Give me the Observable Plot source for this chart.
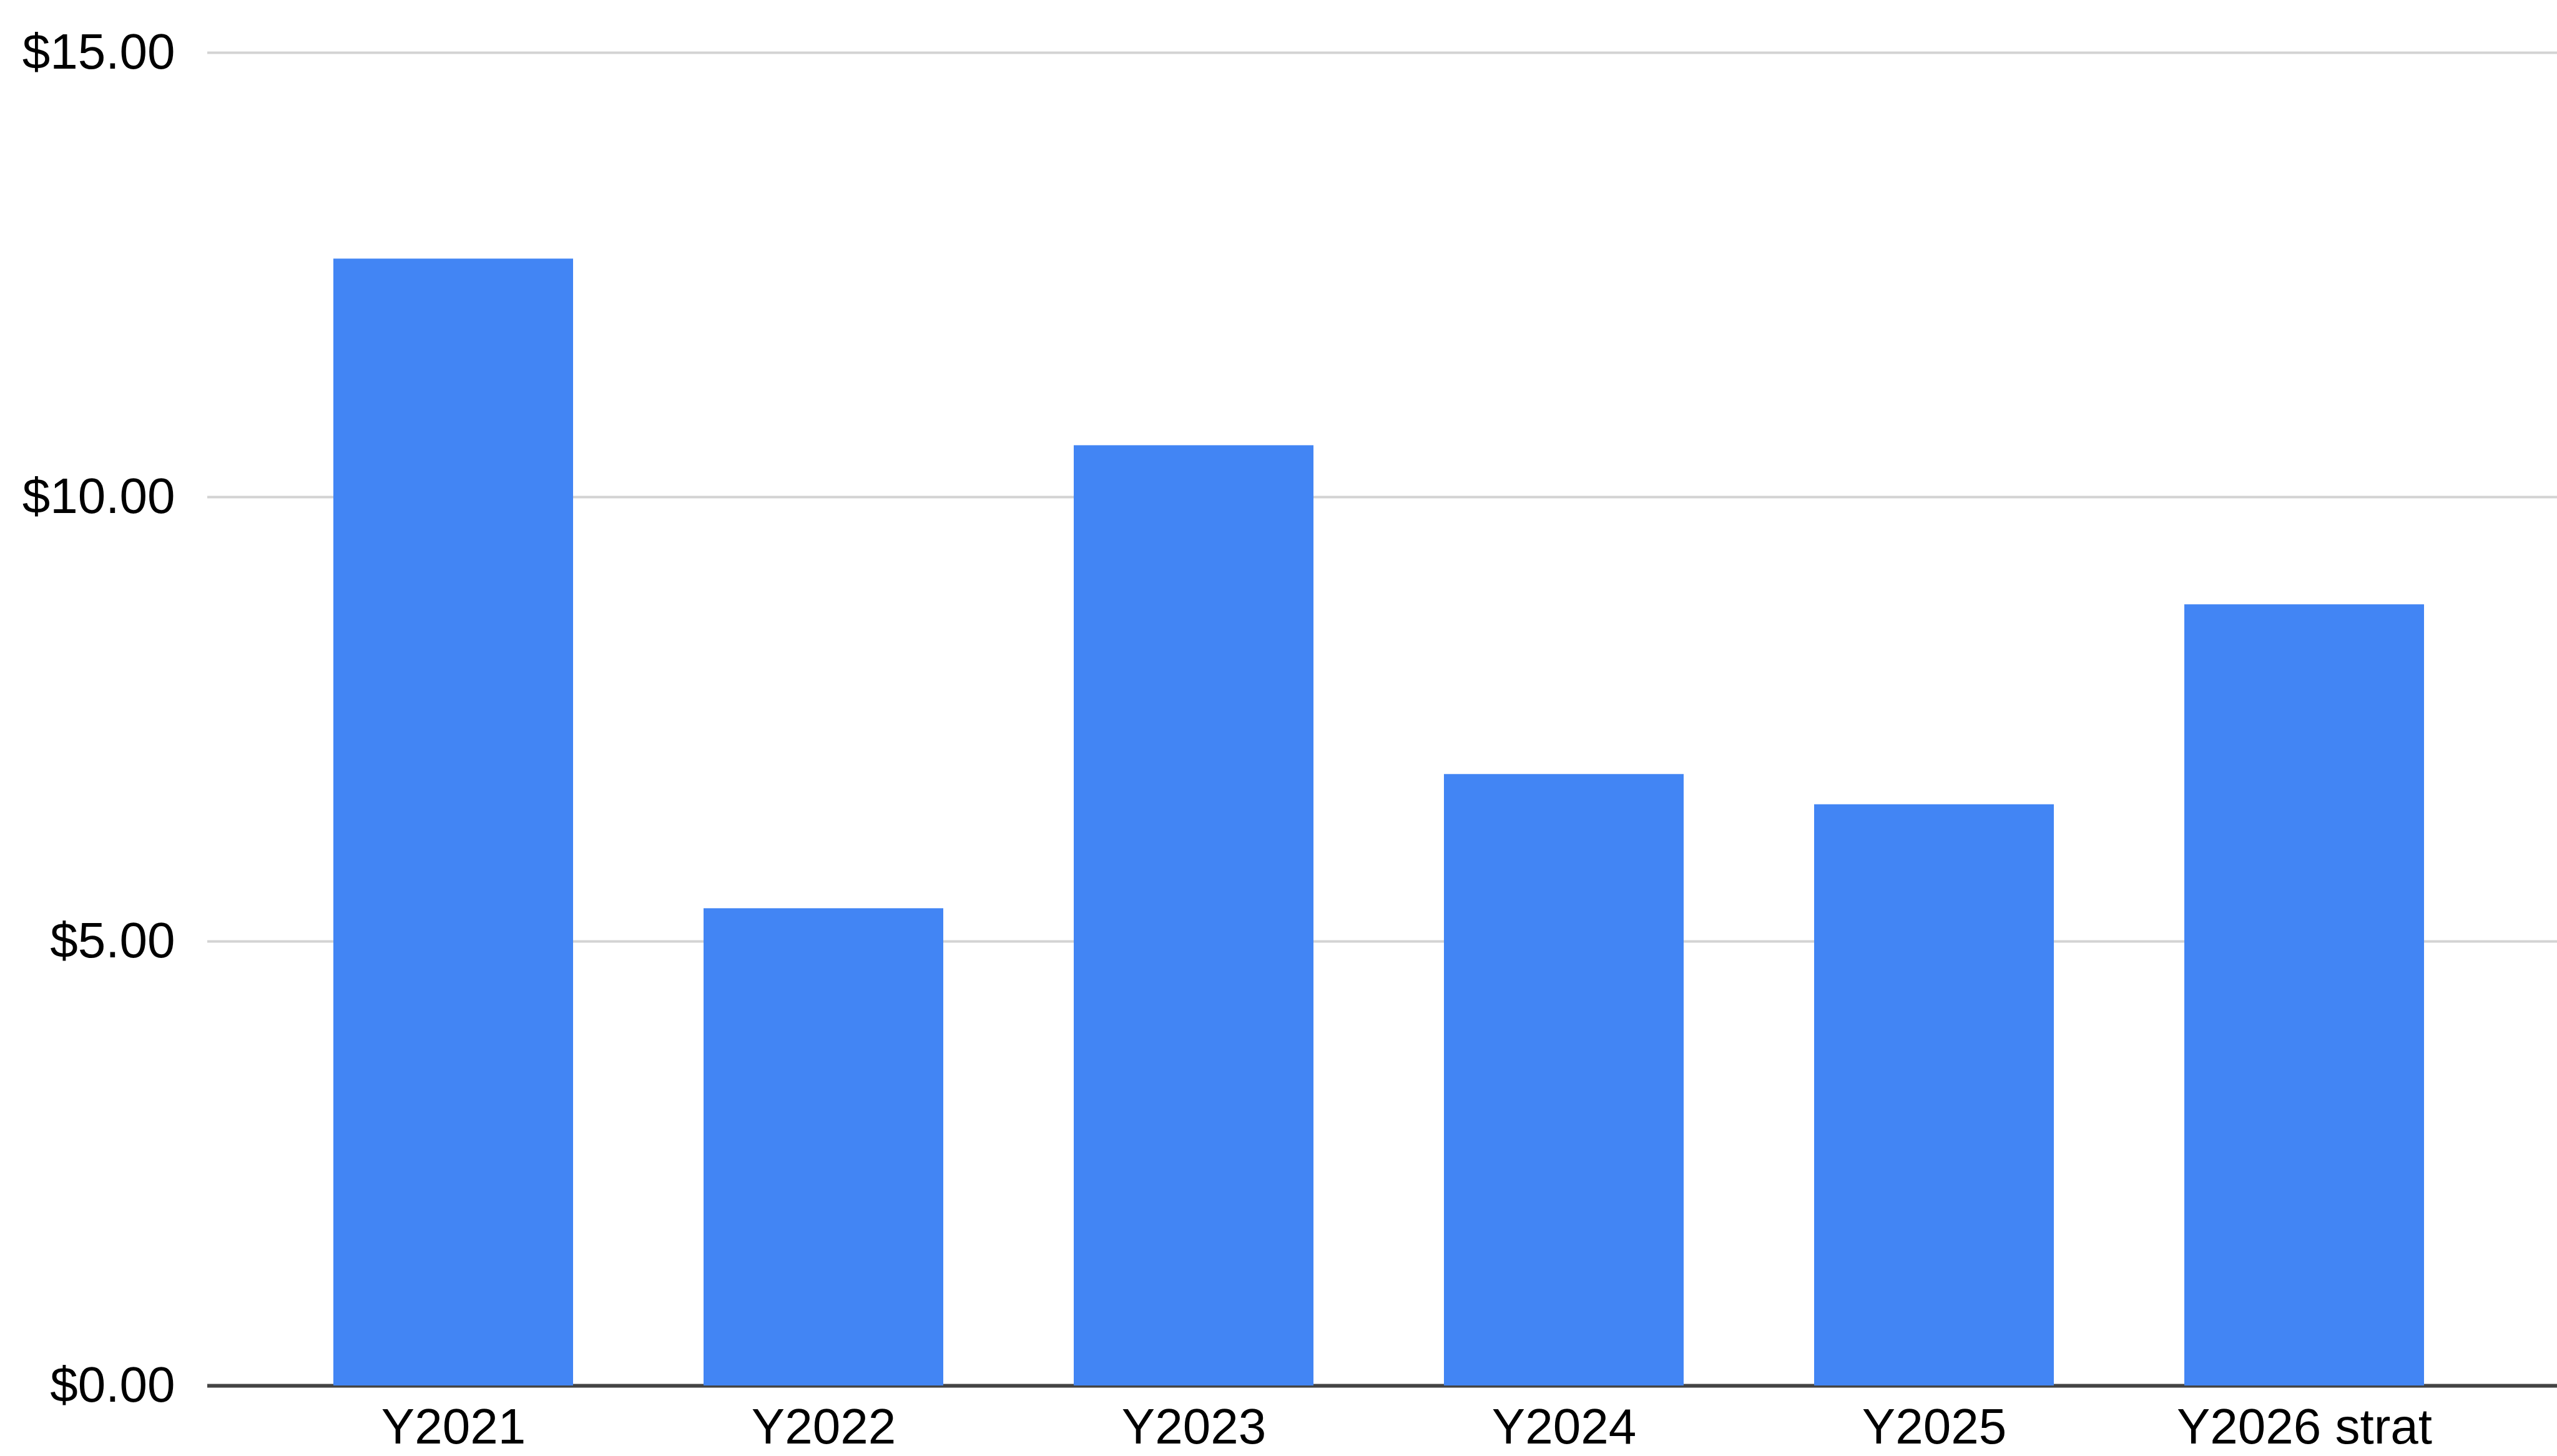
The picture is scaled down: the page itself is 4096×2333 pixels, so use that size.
<!DOCTYPE html>
<html><head><meta charset="utf-8">
<script src="https://cdn.jsdelivr.net/npm/d3@7"></script>
<script src="https://cdn.jsdelivr.net/npm/@observablehq/plot@0.6"></script>
<style>html,body{margin:0;padding:0;background:#fff;overflow:hidden}</style>
</head><body><div id="chart"></div>
<script>
const categories = ["Y2021", "Y2022", "Y2023", "Y2024", "Y2025", "Y2026 strat"];
const values = [12.68, 5.37, 10.58, 6.88, 6.54, 8.79];
const yTicks = [0, 5, 10, 15];
const gridTicks = [5, 10, 15];

const data = categories.map((c, i) => ({category: c, value: values[i]}));

const chart = Plot.plot({
  width: 4096,
  height: 2333,
  marginLeft: 332,
  marginRight: 0,
  marginTop: 84,
  marginBottom: 113,
  style: {fontFamily: "'Liberation Sans', Arial, sans-serif", fontSize: "80px", color: "#000", background: "#fff"},
  x: {domain: categories, paddingInner: 0.353, paddingOuter: 0.3465, align: 0.487, label: null},
  y: {domain: [0, 15], label: null},
  marks: [
    Plot.ruleY(gridTicks, {stroke: "#d3d3d3", strokeWidth: 4}),
    Plot.ruleY([0], {stroke: "#444", strokeWidth: 6}),
    Plot.barY(data, {x: "category", y: "value", fill: "#4285F4"}),
    Plot.axisY(yTicks, {tickSize: 0, tickPadding: 52, fontSize: 80, tickFormat: d => "$" + d.toFixed(2), label: null}),
    Plot.axisX({tickSize: 0, tickPadding: 36, fontSize: 80, label: null})
  ]
});
document.getElementById("chart").appendChild(chart);
</script>
</body></html>
